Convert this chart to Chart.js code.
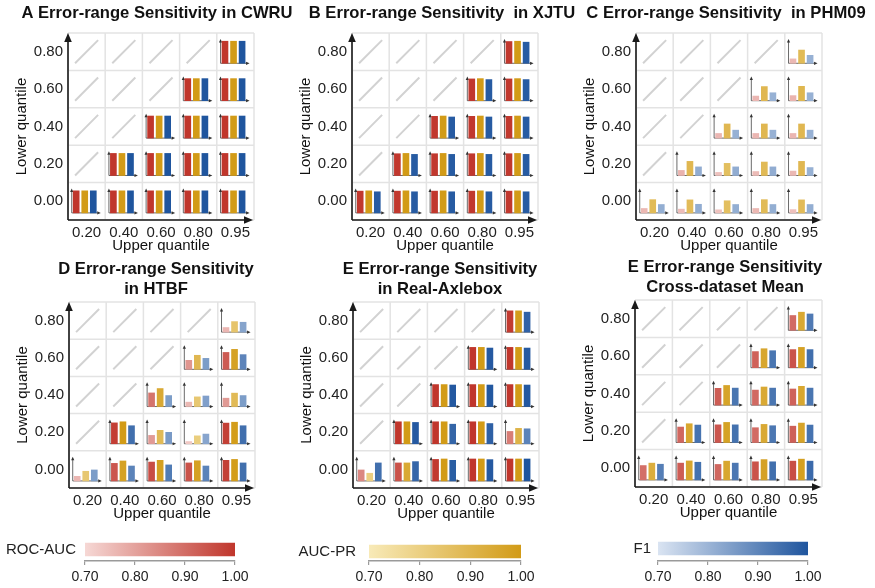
<!DOCTYPE html>
<html>
<head>
<meta charset="utf-8">
<script src="https://cdn.jsdelivr.net/npm/chart.js@4"></script>
<style>
  body { margin: 0; background: #fff; overflow: hidden; width: 875px; height: 588px; position: relative; }
  canvas { position: absolute; }
</style>
</head>
<body>
<script>
// axis labels
const upperLabels = ['0.20', '0.40', '0.60', '0.80', '0.95'];
const lowerLabels = ['0.00', '0.20', '0.40', '0.60', '0.80'];
const metricNames = ['ROC-AUC', 'AUC-PR', 'F1'];
const cbTicks = [0.70, 0.80, 0.90, 1.00];

// rows = lower quantile 0.00 .. 0.80, cols = upper quantile 0.20 .. 0.95
const cwruRoc = [
  [1.00, 1.00, 1.00, 1.00, 1.00],
  [null, 1.00, 1.00, 1.00, 1.00],
  [null, null, 1.00, 1.00, 1.00],
  [null, null, null, 1.00, 1.00],
  [null, null, null, null, 1.00]];
const cwruPr = [
  [1.00, 1.00, 1.00, 1.00, 1.00],
  [null, 1.00, 1.00, 1.00, 1.00],
  [null, null, 1.00, 1.00, 1.00],
  [null, null, null, 1.00, 1.00],
  [null, null, null, null, 1.00]];
const cwruF1 = [
  [1.00, 1.00, 1.00, 1.00, 1.00],
  [null, 1.00, 1.00, 1.00, 1.00],
  [null, null, 1.00, 1.00, 1.00],
  [null, null, null, 1.00, 1.00],
  [null, null, null, null, 1.00]];

const xjtuRoc = [
  [0.996, 0.996, 0.996, 0.996, 0.996],
  [null, 0.996, 0.996, 0.996, 0.996],
  [null, null, 0.996, 0.996, 0.996],
  [null, null, null, 0.996, 0.996],
  [null, null, null, null, 0.996]];
const xjtuPr = [
  [1.00, 1.00, 1.00, 1.00, 1.00],
  [null, 1.00, 1.00, 1.00, 1.00],
  [null, null, 1.00, 1.00, 1.00],
  [null, null, null, 1.00, 1.00],
  [null, null, null, null, 1.00]];
const xjtuF1 = [
  [0.987, 0.987, 0.987, 0.987, 0.987],
  [null, 0.987, 0.987, 0.987, 0.987],
  [null, null, 0.987, 0.987, 0.987],
  [null, null, null, 0.987, 0.987],
  [null, null, null, null, 0.987]];

const phmRoc = [
  [0.760, 0.751, 0.742, 0.760, 0.745],
  [null, 0.769, 0.742, 0.754, 0.760],
  [null, null, 0.763, 0.763, 0.763],
  [null, null, null, 0.763, 0.769],
  [null, null, null, null, 0.760]];
const phmPr = [
  [0.880, 0.877, 0.865, 0.880, 0.877],
  [null, 0.892, 0.865, 0.883, 0.892],
  [null, null, 0.892, 0.892, 0.892],
  [null, null, null, 0.892, 0.895],
  [null, null, null, null, 0.880]];
const phmF1 = [
  [0.814, 0.817, 0.814, 0.814, 0.814],
  [null, 0.817, 0.817, 0.817, 0.808],
  [null, null, 0.808, 0.808, 0.808],
  [null, null, null, 0.808, 0.808],
  [null, null, null, null, 0.808]];

const htbfRoc = [
  [0.763, 0.940, 0.958, 0.946, 0.982],
  [null, 0.985, 0.814, 0.730, 0.982],
  [null, null, 0.886, 0.760, 0.814],
  [null, null, null, 0.823, 0.931],
  [null, null, null, null, 0.763]];
const htbfPr = [
  [0.832, 0.973, 0.982, 0.976, 0.994],
  [null, 1.000, 0.883, 0.808, 0.994],
  [null, null, 0.946, 0.832, 0.883],
  [null, null, null, 0.892, 0.973],
  [null, null, null, null, 0.844]];
const htbfF1 = [
  [0.850, 0.904, 0.919, 0.904, 0.946],
  [null, 0.946, 0.856, 0.832, 0.946],
  [null, null, 0.850, 0.844, 0.850],
  [null, null, null, 0.850, 0.901],
  [null, null, null, null, 0.835]];

const axleRoc = [
  [0.850, 0.946, 0.994, 1.000, 1.000],
  [null, 1.000, 1.000, 1.000, 0.868],
  [null, null, 1.000, 1.000, 1.000],
  [null, null, null, 1.000, 1.000],
  [null, null, null, null, 0.991]];
const axlePr = [
  [0.805, 0.946, 1.000, 1.000, 1.000],
  [null, 1.000, 1.000, 1.000, 0.910],
  [null, null, 1.000, 1.000, 1.000],
  [null, null, null, 1.000, 1.000],
  [null, null, null, null, 0.991]];
const axleF1 = [
  [0.946, 0.964, 0.982, 0.991, 1.000],
  [null, 0.991, 0.967, 0.976, 0.904],
  [null, null, 0.994, 0.994, 0.994],
  [null, null, null, 0.991, 0.991],
  [null, null, null, null, 0.973]];

const meanRoc = [
  [0.895, 0.928, 0.910, 0.946, 0.955],
  [null, 0.910, 0.940, 0.901, 0.922],
  [null, null, 0.928, 0.904, 0.919],
  [null, null, null, 0.919, 0.946],
  [null, null, null, null, 0.901]];
const meanPr = [
  [0.928, 0.958, 0.955, 0.976, 0.982],
  [null, 0.955, 0.973, 0.946, 0.964],
  [null, null, 0.967, 0.946, 0.955],
  [null, null, null, 0.958, 0.976],
  [null, null, null, null, 0.946]];
const meanF1 = [
  [0.913, 0.940, 0.928, 0.946, 0.955],
  [null, 0.937, 0.940, 0.928, 0.937],
  [null, null, 0.931, 0.931, 0.931],
  [null, null, null, 0.931, 0.946],
  [null, null, null, null, 0.922]];

// colour ramps 0.70 -> 1.00
const ramps = [['#f6d8d5', '#c0362c'], ['#f8eab8', '#d29b17'], ['#dae4f2', '#1f559e']];
const FONT = '"Liberation Sans", Arial, sans-serif';

function hex(c) { return [1, 3, 5].map(i => parseInt(c.substr(i, 2), 16)); }
function rampColor(k, v) {
  const t = Math.max(0, Math.min(1, (v - 0.7) / 0.3));
  const a = hex(ramps[k][0]), b = hex(ramps[k][1]);
  const m = a.map((x, i) => Math.round(x + (b[i] - x) * t));
  return `rgb(${m[0]},${m[1]},${m[2]})`;
}

// tc / ty: centre of the title text (page coords)
const panels = [
  { title: ['A Error-range Sensitivity in CWRU'], m: [cwruRoc, cwruPr, cwruF1], left: 2, top: 0, w: 300, h: 258, gl: 68, gr: 254, gt: 33, gb: 220, tc: 157, ty: 13 },
  { title: ['B Error-range Sensitivity  in XJTU'], m: [xjtuRoc, xjtuPr, xjtuF1], left: 286, top: 0, w: 295, h: 258, gl: 352, gr: 538, gt: 33, gb: 220, tc: 442, ty: 13 },
  { title: ['C Error-range Sensitivity  in PHM09'], m: [phmRoc, phmPr, phmF1], left: 570, top: 0, w: 305, h: 258, gl: 636, gr: 822, gt: 33, gb: 220, tc: 726, ty: 13 },
  { title: ['D Error-range Sensitivity', 'in HTBF'], m: [htbfRoc, htbfPr, htbfF1], left: 3, top: 250, w: 290, h: 276, gl: 69, gr: 255, gt: 302, gb: 488, tc: 156, ty: 269 },
  { title: ['E Error-range Sensitivity', 'in Real-Axlebox'], m: [axleRoc, axlePr, axleF1], left: 287, top: 250, w: 290, h: 276, gl: 353, gr: 539, gt: 302, gb: 488, tc: 440, ty: 269 },
  { title: ['E Error-range Sensitivity', 'Cross-dataset Mean'], m: [meanRoc, meanPr, meanF1], left: 569, top: 248, w: 306, h: 276, gl: 635, gr: 822, gt: 300, gb: 487, tc: 725, ty: 267 }
];

// bar height: 0.70 at the small axis, 1.00 full
const VMIN = 0.7, BASE = 0.19, SPAN = 0.59;
const offs = [0.22, 0.45, 0.68];

function arrow(ctx, x, y, dir, len, half) {
  ctx.beginPath();
  if (dir === 'up') { ctx.moveTo(x, y); ctx.lineTo(x - half, y + len); ctx.lineTo(x + half, y + len); }
  else { ctx.moveTo(x, y); ctx.lineTo(x - len, y - half); ctx.lineTo(x - len, y + half); }
  ctx.closePath();
  ctx.fill();
}

function cellPlugin(p) {
  return {
    id: 'cells',
    beforeDatasetsDraw(chart) {
      const { ctx, scales: { x, y } } = chart;
      ctx.save();
      ctx.strokeStyle = '#e3e3e3';
      ctx.lineWidth = 1.5;
      for (let i = 0; i <= 5; i++) {
        ctx.beginPath();
        ctx.moveTo(x.getPixelForValue(i), y.getPixelForValue(0));
        ctx.lineTo(x.getPixelForValue(i), y.getPixelForValue(5));
        ctx.moveTo(x.getPixelForValue(0), y.getPixelForValue(i));
        ctx.lineTo(x.getPixelForValue(5), y.getPixelForValue(i));
        ctx.stroke();
      }
      // small axes inside each bar cell
      ctx.strokeStyle = '#444';
      ctx.fillStyle = '#333';
      ctx.lineWidth = 0.8;
      for (let r = 0; r < 5; r++) {
        for (let c = 0; c < 5; c++) {
          if (p.m[0][r][c] == null) continue;
          const x0 = x.getPixelForValue(c + 0.1), y0 = y.getPixelForValue(r + BASE);
          const yt = y.getPixelForValue(r + 0.84), xe = x.getPixelForValue(c + 0.88);
          ctx.beginPath();
          ctx.moveTo(x0, y0); ctx.lineTo(x0, yt + 3);
          ctx.moveTo(x0, y0); ctx.lineTo(xe - 3, y0);
          ctx.stroke();
          arrow(ctx, x0, yt, 'up', 3.5, 1.6);
          arrow(ctx, xe, y0, 'right', 3.5, 1.6);
        }
      }
      ctx.restore();
    },
    afterDatasetsDraw(chart) {
      const { ctx, scales: { x, y } } = chart;
      const l = x.getPixelForValue(0), b = y.getPixelForValue(0);
      const r = x.getPixelForValue(5) - 1, t = y.getPixelForValue(5);
      ctx.save();
      ctx.strokeStyle = '#1a1a1a';
      ctx.fillStyle = '#1a1a1a';
      ctx.lineWidth = 1.6;
      ctx.beginPath();
      ctx.moveTo(l, b); ctx.lineTo(l, t + 6);
      ctx.moveTo(l, b); ctx.lineTo(r - 6, b);
      ctx.stroke();
      arrow(ctx, l, t, 'up', 9, 3.8);
      arrow(ctx, r, b, 'right', 9, 3.8);
      // panel title
      ctx.font = 'bold 16.6px ' + FONT;
      ctx.fillStyle = '#111';
      ctx.textAlign = 'center';
      ctx.textBaseline = 'middle';
      p.title.forEach((s, i) => ctx.fillText(s, p.tc - p.left, p.ty - p.top + i * 20));
      ctx.restore();
    }
  };
}

function makePanel(p) {
  const cv = document.createElement('canvas');
  cv.width = p.w; cv.height = p.h;
  cv.style.left = p.left + 'px'; cv.style.top = p.top + 'px';
  document.body.appendChild(cv);

  const datasets = [0, 1, 2].map(k => {
    const data = [];
    for (let r = 0; r < 5; r++) {
      for (let c = 0; c < 5; c++) {
        const v = p.m[k][r][c];
        if (v == null) continue;
        data.push({ x: c + offs[k], y: [r + BASE, r + BASE + SPAN * (v - VMIN) / (1 - VMIN)], v: v });
      }
    }
    return {
      type: 'bar', label: metricNames[k], data: data, grouped: false, barThickness: 6,
      backgroundColor: ctx => rampColor(k, ctx.raw.v), order: 1
    };
  });
  const diag = [];
  for (let r = 0; r < 5; r++) {
    for (let c = 0; c < 5; c++) {
      if (p.m[0][r][c] != null) continue;
      diag.push({ x: c + 0.19, y: r + 0.19 }, { x: c + 0.81, y: r + 0.81 }, { x: c + 0.81, y: null });
    }
  }
  datasets.push({ type: 'line', data: diag, borderColor: '#d2d2d2', borderWidth: 2, pointRadius: 0, spanGaps: false, order: 2 });

  new Chart(cv, {
    type: 'bar',
    data: { datasets: datasets },
    options: {
      responsive: false,
      animation: false,
      layout: { padding: { left: 0, top: p.gt - p.top, right: p.w - (p.gr - p.left), bottom: p.h - (p.gb - p.top) - 35 } },
      plugins: {
        legend: { display: false },
        tooltip: { enabled: false },
        title: { display: false }
      },
      scales: {
        x: {
          type: 'linear', min: 0, max: 5, offset: false,
          afterBuildTicks: s => { s.ticks = upperLabels.map((_, i) => ({ value: i + 0.5 })); },
          afterFit: s => { s.height = 35; s.paddingLeft = 0; s.paddingRight = 0; },
          ticks: { callback: v => upperLabels[Math.floor(v)], color: '#222', font: { family: FONT, size: 15 }, padding: 4, maxRotation: 0, autoSkip: false },
          grid: { display: false, drawTicks: false, offset: false },
          border: { display: false },
          title: { display: true, text: 'Upper quantile', color: '#111', font: { family: FONT, size: 15 }, padding: { top: 0, bottom: 0 } }
        },
        y: {
          type: 'linear', min: 0, max: 5, offset: false,
          afterBuildTicks: s => { s.ticks = lowerLabels.map((_, i) => ({ value: i + 0.5 })); },
          afterFit: s => { s.width = p.gl - p.left; s.paddingTop = 0; s.paddingBottom = 0; },
          ticks: { callback: v => lowerLabels[Math.floor(v)], color: '#222', font: { family: FONT, size: 15 }, padding: 5, autoSkip: false },
          grid: { display: false, drawTicks: false },
          border: { display: false },
          title: { display: true, text: 'Lower quantile', color: '#111', font: { family: FONT, size: 15 }, padding: { top: 11, bottom: 0 } }
        }
      }
    },
    plugins: [cellPlugin(p)]
  });
}

panels.forEach(makePanel);

// colour bars
const bars = [
  { k: 0, left: 0, w: 262, l: 85, r: 235, gap: 9 },
  { k: 1, left: 280, w: 262, l: 369, r: 521, gap: 13 },
  { k: 2, left: 570, w: 262, l: 658, r: 808, gap: 7 }
];
bars.forEach(b => {
  const cv = document.createElement('canvas');
  cv.width = b.w; cv.height = 68;
  cv.style.left = b.left + 'px'; cv.style.top = '520px';
  document.body.appendChild(cv);
  new Chart(cv, {
    type: 'bar',
    data: {
      labels: [metricNames[b.k]],
      datasets: [{
        data: [[cbTicks[0], cbTicks[cbTicks.length - 1]]],
        barThickness: 13,
        backgroundColor: ctx => {
          const ch = ctx.chart;
          if (!ch.chartArea) return ramps[b.k][1];
          const xs = ch.scales.x;
          const g = ch.ctx.createLinearGradient(xs.getPixelForValue(0.7), 0, xs.getPixelForValue(1.0), 0);
          g.addColorStop(0, ramps[b.k][0]);
          g.addColorStop(1, ramps[b.k][1]);
          return g;
        }
      }]
    },
    options: {
      indexAxis: 'y',
      responsive: false,
      animation: false,
      layout: { padding: { top: 10, right: b.w - (b.r - b.left), left: 0, bottom: 0 } },
      plugins: { legend: { display: false }, tooltip: { enabled: false } },
      scales: {
        x: {
          type: 'linear', min: 0.7, max: 1.0,
          afterBuildTicks: s => { s.ticks = cbTicks.map(v => ({ value: v })); },
          afterFit: s => { s.height = 27; },
          ticks: { callback: v => v.toFixed(2), color: '#222', font: { family: FONT, size: 14 }, padding: 4, maxRotation: 0 },
          grid: { display: true, drawOnChartArea: false, drawTicks: true, tickLength: 4, color: '#9a9a9a', lineWidth: 1.2 },
          border: { display: true, color: '#9a9a9a', width: 1.5 }
        },
        y: {
          afterFit: s => { s.width = b.l - b.left; },
          ticks: { color: '#222', font: { family: FONT, size: 15 }, padding: b.gap },
          grid: { display: false, drawTicks: false },
          border: { display: false }
        }
      }
    }
  });
});
</script>
</body>
</html>
